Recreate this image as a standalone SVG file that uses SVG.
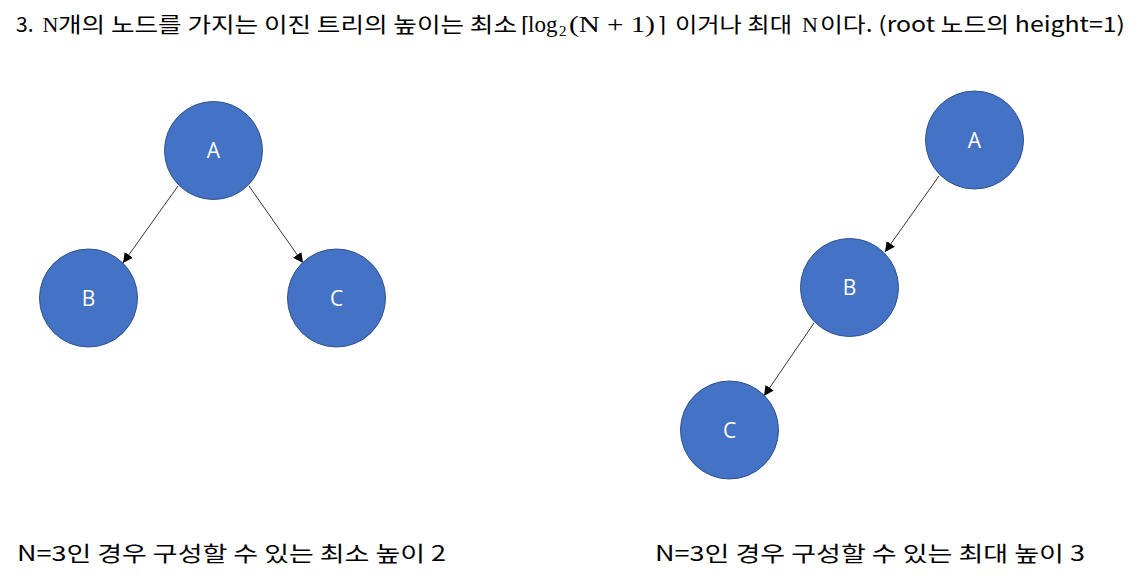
<svg xmlns="http://www.w3.org/2000/svg" width="1148" height="581" viewBox="0 0 1148 581">
<style>
.t{font-family:"Noto Sans CJK KR","Noto Sans",sans-serif;font-size:21px;fill:#000}
.m{font-family:"Liberation Serif","DejaVu Serif",serif;font-size:23px;fill:#000}
.n{fill:#4472C4;stroke:#2F528F;stroke-width:1}
.l{font-family:"Open Sans","Noto Sans",sans-serif;font-size:21px;fill:#fff;text-anchor:middle}
.e{stroke:#000;stroke-width:0.8;fill:none;marker-end:url(#ar)}
</style>
<defs>
<marker id="ar" viewBox="0 0 10 10" refX="10" refY="5" markerWidth="10" markerHeight="10" markerUnits="userSpaceOnUse" orient="auto">
<path d="M0,0 L10,5 L0,10 z" fill="#000"/>
</marker>
</defs>
<rect width="1148" height="581" fill="#fff"/>
<g id="title">
<text class="t" x="16" y="32">3.</text>
<text class="m" x="42.5" y="32" style="font-size:22px">N</text>
<text class="t" x="58" y="32" textLength="459" lengthAdjust="spacingAndGlyphs">개의 노드를 가지는 이진 트리의 높이는 최소</text>
<text class="m" x="521" y="32" style="font-size:21px">⌈</text>
<text class="m" x="528" y="32">log</text>
<text class="m" x="559" y="36" style="font-size:15px">2</text>
<text class="m" x="569" y="32" textLength="86" lengthAdjust="spacingAndGlyphs">(N + 1)</text>
<text class="m" x="658" y="32" style="font-size:21px">⌉</text>
<text class="t" x="675" y="32" textLength="117" lengthAdjust="spacingAndGlyphs">이거나 최대</text>
<text class="m" x="802" y="32" style="font-size:22px">N</text>
<text class="t" x="820" y="32" textLength="305" lengthAdjust="spacingAndGlyphs">이다. (root 노드의 height=1)</text>
</g>
<g id="connectors">
<line class="e" x1="178" y1="186" x2="123" y2="263"/>
<line class="e" x1="249" y1="186" x2="303" y2="263"/>
<line class="e" x1="939" y1="176" x2="885" y2="252"/>
<line class="e" x1="814" y1="323" x2="764" y2="396"/>
</g>
<g id="L_A"><circle class="n" cx="213.5" cy="150.5" r="49"/><text class="l" x="213.5" y="158">A</text></g>
<g id="L_B"><circle class="n" cx="88.5" cy="298" r="49"/><text class="l" x="88.5" y="305.5">B</text></g>
<g id="L_C"><circle class="n" cx="336.5" cy="298" r="49"/><text class="l" x="336.5" y="305.5">C</text></g>
<g id="R_A"><circle class="n" cx="974.5" cy="140" r="49"/><text class="l" x="974.5" y="147.5">A</text></g>
<g id="R_B"><circle class="n" cx="849.5" cy="287.5" r="49"/><text class="l" x="849.5" y="295">B</text></g>
<g id="R_C"><circle class="n" cx="729.5" cy="430" r="49"/><text class="l" x="729.5" y="437.5">C</text></g>
<text class="t" x="17" y="561" textLength="429" lengthAdjust="spacingAndGlyphs">N=3인 경우 구성할 수 있는 최소 높이 2</text>
<text class="t" x="655" y="561" textLength="430" lengthAdjust="spacingAndGlyphs">N=3인 경우 구성할 수 있는 최대 높이 3</text>
</svg>
